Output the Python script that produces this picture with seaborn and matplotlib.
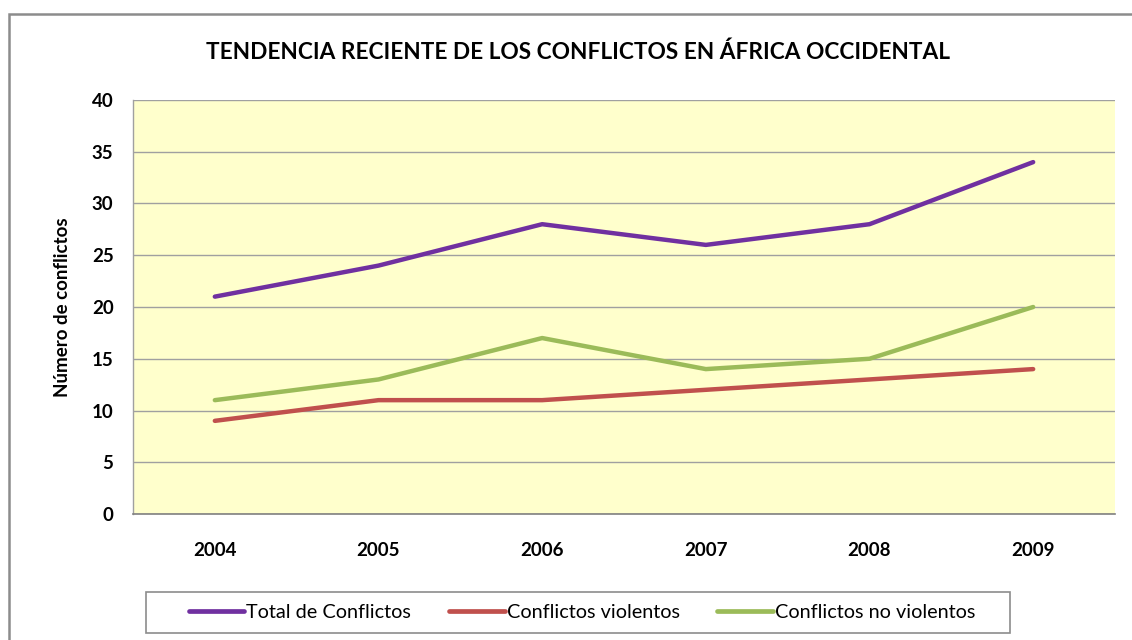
import matplotlib
matplotlib.use("Agg")
import matplotlib.pyplot as plt
import seaborn as sns
import pandas as pd
from matplotlib.patches import Rectangle

years = ["2004", "2005", "2006", "2007", "2008", "2009"]
total = [21, 24, 28, 26, 28, 34]
violentos = [9, 11, 11, 12, 13, 14]
no_violentos = [11, 13, 17, 14, 15, 20]
series_names = ["Total de Conflictos", "Conflictos violentos", "Conflictos no violentos"]
colors = ["#7030A0", "#C0504D", "#9BBB59"]

sns.set_theme(style="white")
plt.rcParams["font.family"] = ["Lato", "DejaVu Sans"]
plt.rcParams["text.color"] = "black"

df = pd.DataFrame({
    "Año": years * 3,
    "Valor": total + violentos + no_violentos,
    "Serie": [series_names[0]] * 6 + [series_names[1]] * 6 + [series_names[2]] * 6,
})

fig = plt.figure(figsize=(11.32, 6.4), dpi=100)
# outer chart border
fig.patches.append(Rectangle((9 / 1132, -0.01), 1.05, 1 - 14 / 640 + 0.01,
                             transform=fig.transFigure, fill=False,
                             edgecolor="#8C8C8C", linewidth=1.8, zorder=0))
# legend box
fig.patches.append(Rectangle((146 / 1132, 1 - 633 / 640), (1010 - 146) / 1132, 41 / 640,
                             transform=fig.transFigure, fill=False,
                             edgecolor="#8C8C8C", linewidth=1.2, zorder=0))

ax = fig.add_axes([133 / 1132, 1 - 514 / 640, (1115 - 133) / 1132, (514 - 100) / 640])
ax.set_facecolor("#FFFFCC")

sns.lineplot(data=df, x="Año", y="Valor", hue="Serie", palette=colors,
             linewidth=3.2, ax=ax, legend=False, sort=False)

ax.set_xlim(-0.5, 5.5)
ax.set_ylim(0, 40)
ax.set_yticks(range(0, 41, 5))
ax.yaxis.grid(True, color="#A0A0A0", linewidth=1.0)
ax.set_axisbelow(True)
for s in ["top", "right"]:
    ax.spines[s].set_visible(False)
ax.spines["left"].set_color("#A0A0A0")
ax.spines["bottom"].set_color("#808080")
ax.spines["left"].set_linewidth(1.0)
ax.spines["bottom"].set_linewidth(1.2)
ax.tick_params(axis="both", length=0, labelsize=13.5, colors="black")
ax.tick_params(axis="y", pad=14)
ax.tick_params(axis="x", pad=20)
ax.set_xlabel("")
ax.set_ylabel("Número de conflictos", fontsize=13.5, fontweight="bold", labelpad=15, color="black")
for t in ax.get_xticklabels() + ax.get_yticklabels():
    t.set_fontweight("bold")

fig.text(578 / 1132, 1 - 52 / 640, "TENDENCIA RECIENTE DE LOS CONFLICTOS EN ÁFRICA OCCIDENTAL",
         ha="center", va="center", fontsize=16.3, fontweight="bold", color="black")

handles = [plt.Line2D([], [], color=c, linewidth=3.4) for c in colors]
leg = fig.legend(handles, series_names, loc="center", ncol=3,
                 bbox_to_anchor=(582 / 1132, 1 - 612 / 640),
                 frameon=False, fontsize=14.3,
                 handlelength=2.8, handletextpad=0.1, columnspacing=1.9,
                 borderpad=0.45, borderaxespad=0)
for t in leg.get_texts():
    t.set_color("black")

fig.savefig("out.png", dpi=100)
